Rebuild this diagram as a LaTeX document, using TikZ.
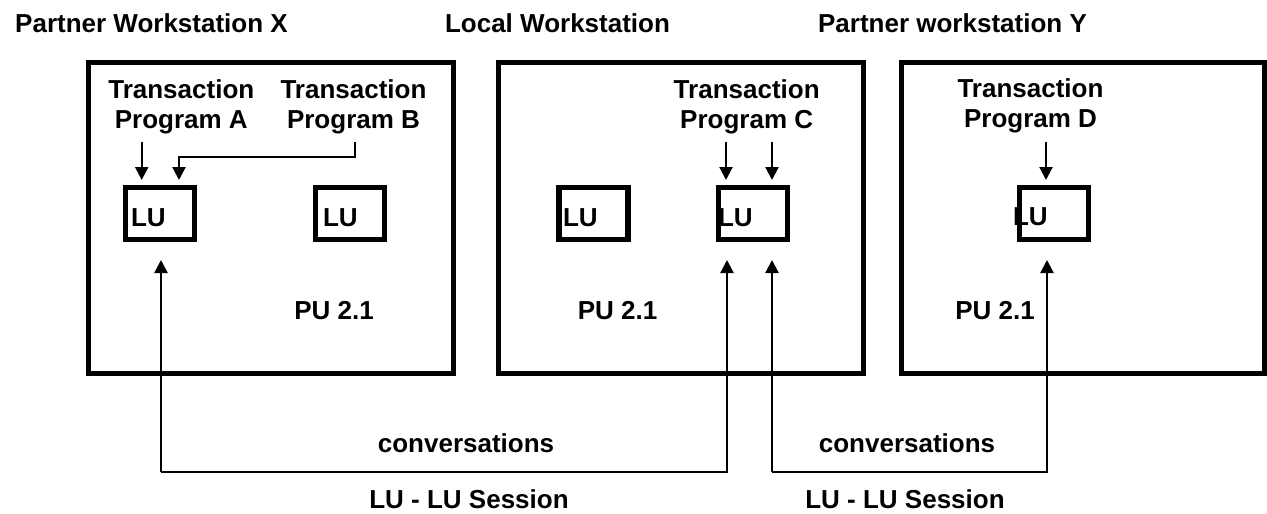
\documentclass[tikz,border=0pt]{standalone}
\usepackage{fontspec}
\setmainfont{Liberation Sans}
\usetikzlibrary{arrows.meta}

\begin{document}
\begin{tikzpicture}[x=1pt, y=-1pt,
    every node/.style={font=\fontsize{26}{30}\selectfont\bfseries, inner sep=0pt, outer sep=0pt},
    station/.style={draw, line width=5pt, minimum width=365pt, minimum height=311pt},
    lu/.style={draw, line width=5.5pt, minimum width=69pt, minimum height=52pt},
    prog/.style={align=center, anchor=base},
    conn/.style={line width=2.2pt, -{Triangle[width=13pt,length=13pt]}}]
  \useasboundingbox (0,0) rectangle (1267,514);

  % workstations
  \node[station]                      (X) at (270.5,218) {};
  \node[station]                      (L) at (681.2,218) {};
  \node[station, minimum width=363pt] (Y) at (1083,218)  {};
  \node[anchor=base] (titleX) at (151.5,32) {Partner Workstation X};
  \node[anchor=base] (titleL) at (557.5,32) {Local Workstation};
  \node[anchor=base] (titleY) at (952.5,32) {Partner workstation Y};

  % transaction programs
  \node[prog] (tpA) at (181.3,128)  {Transaction\\Program A};
  \node[prog] (tpB) at (353.5,128)  {Transaction\\Program B};
  \node[prog] (tpC) at (746.7,128)  {Transaction\\Program C};
  \node[prog] (tpD) at (1030.5,127) {Transaction\\Program D};

  % logical units
  \node[lu] (LUa) at (160,213.5)   {};
  \node[lu] (LUb) at (350,213.5)   {};
  \node[lu] (LUc) at (593.5,213.5) {};
  \node[lu] (LUd) at (753,213.5)   {};
  \node[lu] (LUe) at (1054,213.5)  {};
  \node[anchor=base west] (tLUa) at (131,226.5)  {LU};
  \node[anchor=base west] (tLUb) at (323,226.5)  {LU};
  \node[anchor=base west] (tLUc) at (563,226.5)  {LU};
  \node[anchor=base west] (tLUd) at (718,226.5)  {LU};
  \node[anchor=base west] (tLUe) at (1013,225.5) {LU};

  \node[anchor=base] (puX) at (334,319)   {PU 2.1};
  \node[anchor=base] (puL) at (617.5,319) {PU 2.1};
  \node[anchor=base] (puY) at (995,319)   {PU 2.1};

  \node[anchor=base] (convXL) at (466,452) {conversations};
  \node[anchor=base] (convLY) at (907,452) {conversations};
  \node[anchor=base] (sessXL) at (469,508) {LU - LU Session};
  \node[anchor=base] (sessLY) at (905,508) {LU - LU Session};

  % connectors
  \coordinate (inA)  at (141.7,142);
  \coordinate (inB)  at (355,142);
  \coordinate (inC1) at (726,142);
  \coordinate (inC2) at (772,142);
  \coordinate (inD)  at (1046,142);
  \coordinate (s1)   at (161,472);
  \coordinate (s2)   at (772,472);

  \draw[conn, shorten >=7.5pt] (inA)  -- (inA |- LUa.north);
  \draw[conn, shorten >=7.5pt] (inB)  -- ++(0,15) -| ([xshift=19pt]LUa.north);
  \draw[conn, shorten >=7.5pt] (inC1) -- (inC1 |- LUd.north);
  \draw[conn, shorten >=7.5pt] (inC2) -- (inC2 |- LUd.north);
  \draw[conn, shorten >=7.5pt] (inD)  -- (inD |- LUe.north);

  \draw[conn, shorten >=20.5pt] (s1) -- (s1 |- LUa.south);
  \draw[conn, shorten >=20.5pt] (s1) -| ([xshift=-26pt]LUd.south);
  \draw[conn, shorten >=20.5pt] (s2) -- (s2 |- LUd.south);
  \draw[conn, shorten >=20.5pt] (s2) -| ([xshift=-7pt]LUe.south);
\end{tikzpicture}
\end{document}
